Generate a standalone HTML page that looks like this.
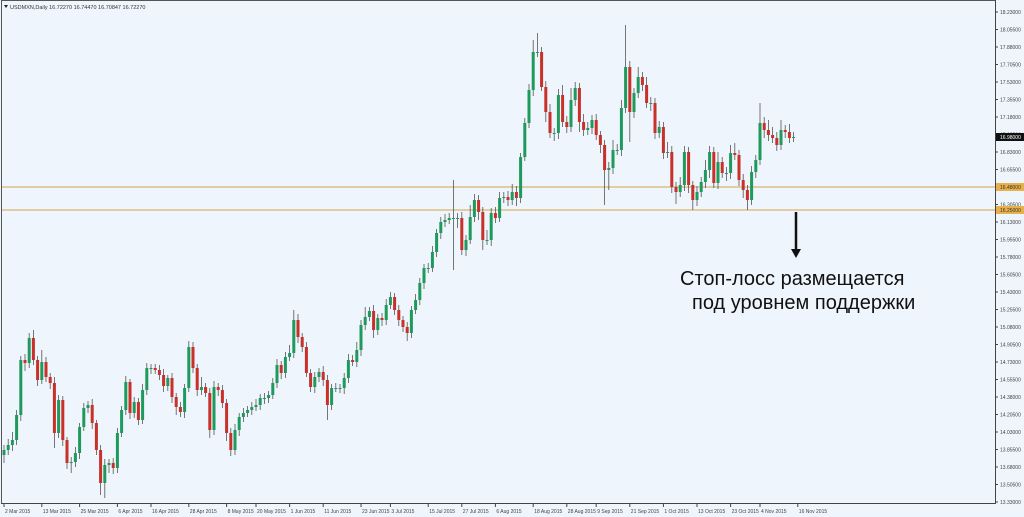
<!DOCTYPE html>
<html><head><meta charset="utf-8">
<style>
html,body{margin:0;padding:0;background:#fff;}
#wrap{position:relative;width:1024px;height:517px;overflow:hidden;background:#eef5fc;font-family:"Liberation Sans",sans-serif;}
svg{position:absolute;left:0;top:0;}
.note{position:absolute;font-family:"Liberation Sans","Noto Sans CJK SC",sans-serif;font-size:20px;color:#111;white-space:nowrap;}
</style></head>
<body>
<div id="wrap">
<svg id="chart" width="1024" height="517"></svg>
<div class="note" style="left:680px;top:268px;">Стоп-лосс размещается</div>
<div class="note" style="left:692px;top:292px;">под уровнем поддержки</div>
</div>
<script>
const closes = [
13.85,13.90,13.95,14.20,14.75,14.72,14.97,14.75,14.55,14.73,14.58,14.52,14.02,14.35,13.95,13.72,13.73,13.82,14.08,14.27,
14.30,14.12,13.85,13.52,13.70,13.72,13.67,14.02,14.25,14.53,14.22,14.33,14.15,14.45,14.67,14.67,14.65,14.60,14.49,14.57,
14.38,14.28,14.23,14.47,14.88,14.67,14.45,14.48,14.42,14.05,14.48,14.45,14.32,14.02,13.85,14.05,14.18,14.22,14.25,
14.28,14.30,14.37,14.37,14.40,14.52,14.70,14.62,14.78,14.82,15.15,14.98,14.88,14.62,14.48,14.58,14.63,14.55,14.30,14.47,
14.47,14.47,14.57,14.75,14.73,14.85,15.10,15.18,15.24,15.05,15.17,15.15,15.30,15.38,15.25,15.15,15.08,15.02,15.25,15.35,
15.52,15.67,15.67,15.83,16.02,16.13,16.15,16.17,16.17,16.17,15.85,15.95,16.18,16.35,16.23,15.95,15.95,16.22,16.17,16.37,
16.38,16.35,16.43,16.37,16.78,17.12,17.45,17.83,17.83,17.48,17.23,17.02,17.02,17.40,17.13,17.08,17.35,17.47,17.13,17.05,
17.07,17.15,17.00,16.90,16.65,16.67,16.85,16.85,17.27,17.68,17.23,17.42,17.58,17.50,17.32,17.32,17.02,17.08,16.82,16.83,
16.48,16.43,16.50,16.83,16.50,16.35,16.43,16.53,16.65,16.83,16.52,16.73,16.62,16.62,16.82,16.80,16.55,16.45,16.35,16.63,
16.75,17.12,17.05,17.00,16.97,16.90,17.05,17.03,16.97,16.98];
const firstOpen = 13.80;
const wickUp = [
0.05,0.06,0.08,0.05,0.04,0.06,0.05,0.08,0.04,0.12,0.05,0.04,0.06,0.05,0.04,0.03,0.05,0.06,0.04,0.05,
0.04,0.06,0.03,0.05,0.06,0.04,0.05,0.05,0.04,0.06,0.03,0.05,0.04,0.06,0.05,0.04,0.04,0.05,0.06,0.03,
0.05,0.04,0.05,0.04,0.06,0.05,0.04,0.10,0.04,0.05,0.06,0.04,0.05,0.04,0.05,0.06,0.04,0.05,0.04,
0.05,0.06,0.04,0.05,0.04,0.05,0.06,0.04,0.05,0.08,0.10,0.06,0.04,0.05,0.04,0.05,0.04,0.06,0.05,0.04,
0.05,0.04,0.05,0.06,0.05,0.08,0.05,0.10,0.04,0.06,0.04,0.05,0.06,0.05,0.04,0.05,0.04,0.05,0.04,0.06,
0.05,0.04,0.05,0.06,0.04,0.05,0.06,0.05,0.38,0.05,0.06,0.05,0.12,0.06,0.05,0.05,0.10,0.05,0.06,0.06,
0.05,0.06,0.08,0.06,0.04,0.05,0.06,0.12,0.19,0.05,0.06,0.08,0.05,0.06,0.10,0.06,0.12,0.06,0.05,0.08,
0.06,0.05,0.06,0.04,0.05,0.06,0.10,0.06,0.08,0.42,0.06,0.05,0.10,0.05,0.08,0.06,0.05,0.06,0.05,0.10,
0.06,0.05,0.08,0.06,0.05,0.04,0.06,0.05,0.10,0.06,0.05,0.10,0.05,0.06,0.08,0.10,0.05,0.06,0.05,0.06,
0.05,0.20,0.06,0.10,0.08,0.06,0.10,0.05,0.08,0.05];
const wickDn = [
0.08,0.05,0.06,0.05,0.06,0.08,0.05,0.05,0.06,0.04,0.05,0.06,0.15,0.05,0.06,0.06,0.10,0.05,0.06,0.04,
0.05,0.06,0.05,0.12,0.15,0.08,0.06,0.05,0.04,0.05,0.06,0.05,0.05,0.04,0.05,0.06,0.04,0.05,0.06,0.05,
0.06,0.08,0.05,0.06,0.04,0.05,0.06,0.05,0.04,0.08,0.05,0.06,0.05,0.08,0.06,0.05,0.06,0.05,0.04,
0.05,0.04,0.05,0.06,0.05,0.04,0.05,0.06,0.05,0.04,0.05,0.06,0.05,0.04,0.05,0.06,0.05,0.06,0.15,0.05,
0.04,0.05,0.06,0.05,0.04,0.05,0.06,0.05,0.04,0.08,0.05,0.06,0.05,0.04,0.05,0.06,0.05,0.08,0.05,0.04,
0.05,0.06,0.05,0.04,0.05,0.06,0.05,0.04,0.52,0.10,0.05,0.06,0.04,0.05,0.08,0.10,0.05,0.06,0.05,0.04,
0.05,0.06,0.05,0.08,0.05,0.04,0.05,0.06,0.05,0.04,0.10,0.05,0.08,0.06,0.05,0.06,0.05,0.06,0.10,0.06,
0.05,0.06,0.05,0.08,0.35,0.20,0.06,0.05,0.06,0.05,0.30,0.06,0.05,0.06,0.05,0.08,0.06,0.05,0.06,0.05,
0.06,0.12,0.05,0.06,0.08,0.10,0.06,0.05,0.06,0.08,0.05,0.06,0.05,0.08,0.06,0.05,0.06,0.08,0.10,0.05,
0.06,0.05,0.08,0.06,0.05,0.06,0.05,0.06,0.05,0.04];
const yTicks = [18.23,18.055,17.88,17.705,17.53,17.355,17.18,17.005,16.83,16.655,16.48,16.305,16.13,15.955,15.78,15.605,15.43,15.255,15.08,14.905,14.73,14.555,14.38,14.205,14.03,13.855,13.68,13.505,13.33];
const dateLabels = ["2 Mar 2015","13 Mar 2015","25 Mar 2015","6 Apr 2015","16 Apr 2015","28 Apr 2015","8 May 2015","20 May 2015","1 Jun 2015","11 Jun 2015","23 Jun 2015","3 Jul 2015","15 Jul 2015","27 Jul 2015","6 Aug 2015","18 Aug 2015","28 Aug 2015","9 Sep 2015","21 Sep 2015","1 Oct 2015","13 Oct 2015","23 Oct 2015","4 Nov 2015","16 Nov 2015"];
const dateIndex = [0,9,18,27,35,44,53,60,68,76,85,92,101,109,117,126,134,141,149,157,165,173,180,189];
const supportLevels = [16.48,16.25];
const currentPrice = 16.98;

const NS="http://www.w3.org/2000/svg";
const svg=document.getElementById('chart');
function yS(p){return (18.35-p)*100;}
function xS(i){return 4+i*4.2;}
function mk(tag,attrs,parent){const e=document.createElementNS(NS,tag);for(const k in attrs)e.setAttribute(k,attrs[k]);(parent||svg).appendChild(e);return e;}

const fr=mk('rect',{x:1.5,y:0.5,width:994,height:503,fill:'none',stroke:'#555','stroke-width':1});


const ttl=mk('text',{x:10,y:9,'font-size':5.5,fill:'#333'});


ttl.textContent='USDMXN,Daily  16.72270 16.74470 16.70847 16.72270';
mk('path',{d:'M4 5 L8 5 L6 8 Z',fill:'#222'});

supportLevels.forEach((lv,k)=>{
  const l=mk('line',{x1:2,x2:995,y1:yS(lv),y2:yS(lv),stroke:'#d4a24c','stroke-width':1});
  
  
});

const g=mk('g',{});


for(let i=0;i<closes.length;i++){
  const o=i===0?firstOpen:closes[i-1], c=closes[i];
  const hi=Math.max(o,c)+wickUp[i], lo=Math.min(o,c)-wickDn[i];
  const x=xS(i);
  const up=c>=o;
  const col=up?'#1f9a5c':'#c8302a';
  const w=mk('line',{x1:x,x2:x,y1:yS(hi),y2:yS(lo),stroke:'#555','stroke-width':0.8},g);
  
  
  const top=yS(Math.max(o,c)), h=Math.max(1,yS(Math.min(o,c))-top);
  const b=mk('rect',{x:x-1.5,y:top,width:3,height:h,fill:col},g);
  
  
}

mk('line',{x1:995.5,x2:995.5,y1:0,y2:504,stroke:'#444'});
yTicks.forEach(v=>{
  const y=yS(v);
  mk('line',{x1:995,x2:998,y1:y,y2:y,stroke:'#444'});
  const t=mk('text',{x:1000,y:y+2,'font-size':5,fill:'#444'});
  
  
  t.textContent=v.toFixed(5);
});
function box(p,fill,txtCol,name){
  const y=yS(p);
  const r=mk('rect',{x:996,y:y-4,width:28,height:8,fill:fill});
  
  
  const t=mk('text',{x:1000,y:y+2,'font-size':5,fill:txtCol});
  t.textContent=p.toFixed(5);
}
supportLevels.forEach((lv,k)=>box(lv,'#e8b04a','#333','support-price-box-'+(k+1)));
box(currentPrice,'#111','#fff','current-price-box');

mk('line',{x1:1,x2:996,y1:503.5,y2:503.5,stroke:'#444'});
dateLabels.forEach((d,k)=>{
  const x=xS(dateIndex[k]);
  mk('line',{x1:x,x2:x,y1:503,y2:507,stroke:'#444'});
  const t=mk('text',{x:x+1,y:513,'font-size':5,fill:'#444'});
  
  
  t.textContent=d;
});

const ar=mk('g',{});


mk('line',{x1:796,x2:796,y1:212,y2:250,stroke:'#111','stroke-width':2.5},ar);
mk('path',{d:'M791 249 L801 249 L796 258 Z',fill:'#111'},ar);
</script>
</body></html>
